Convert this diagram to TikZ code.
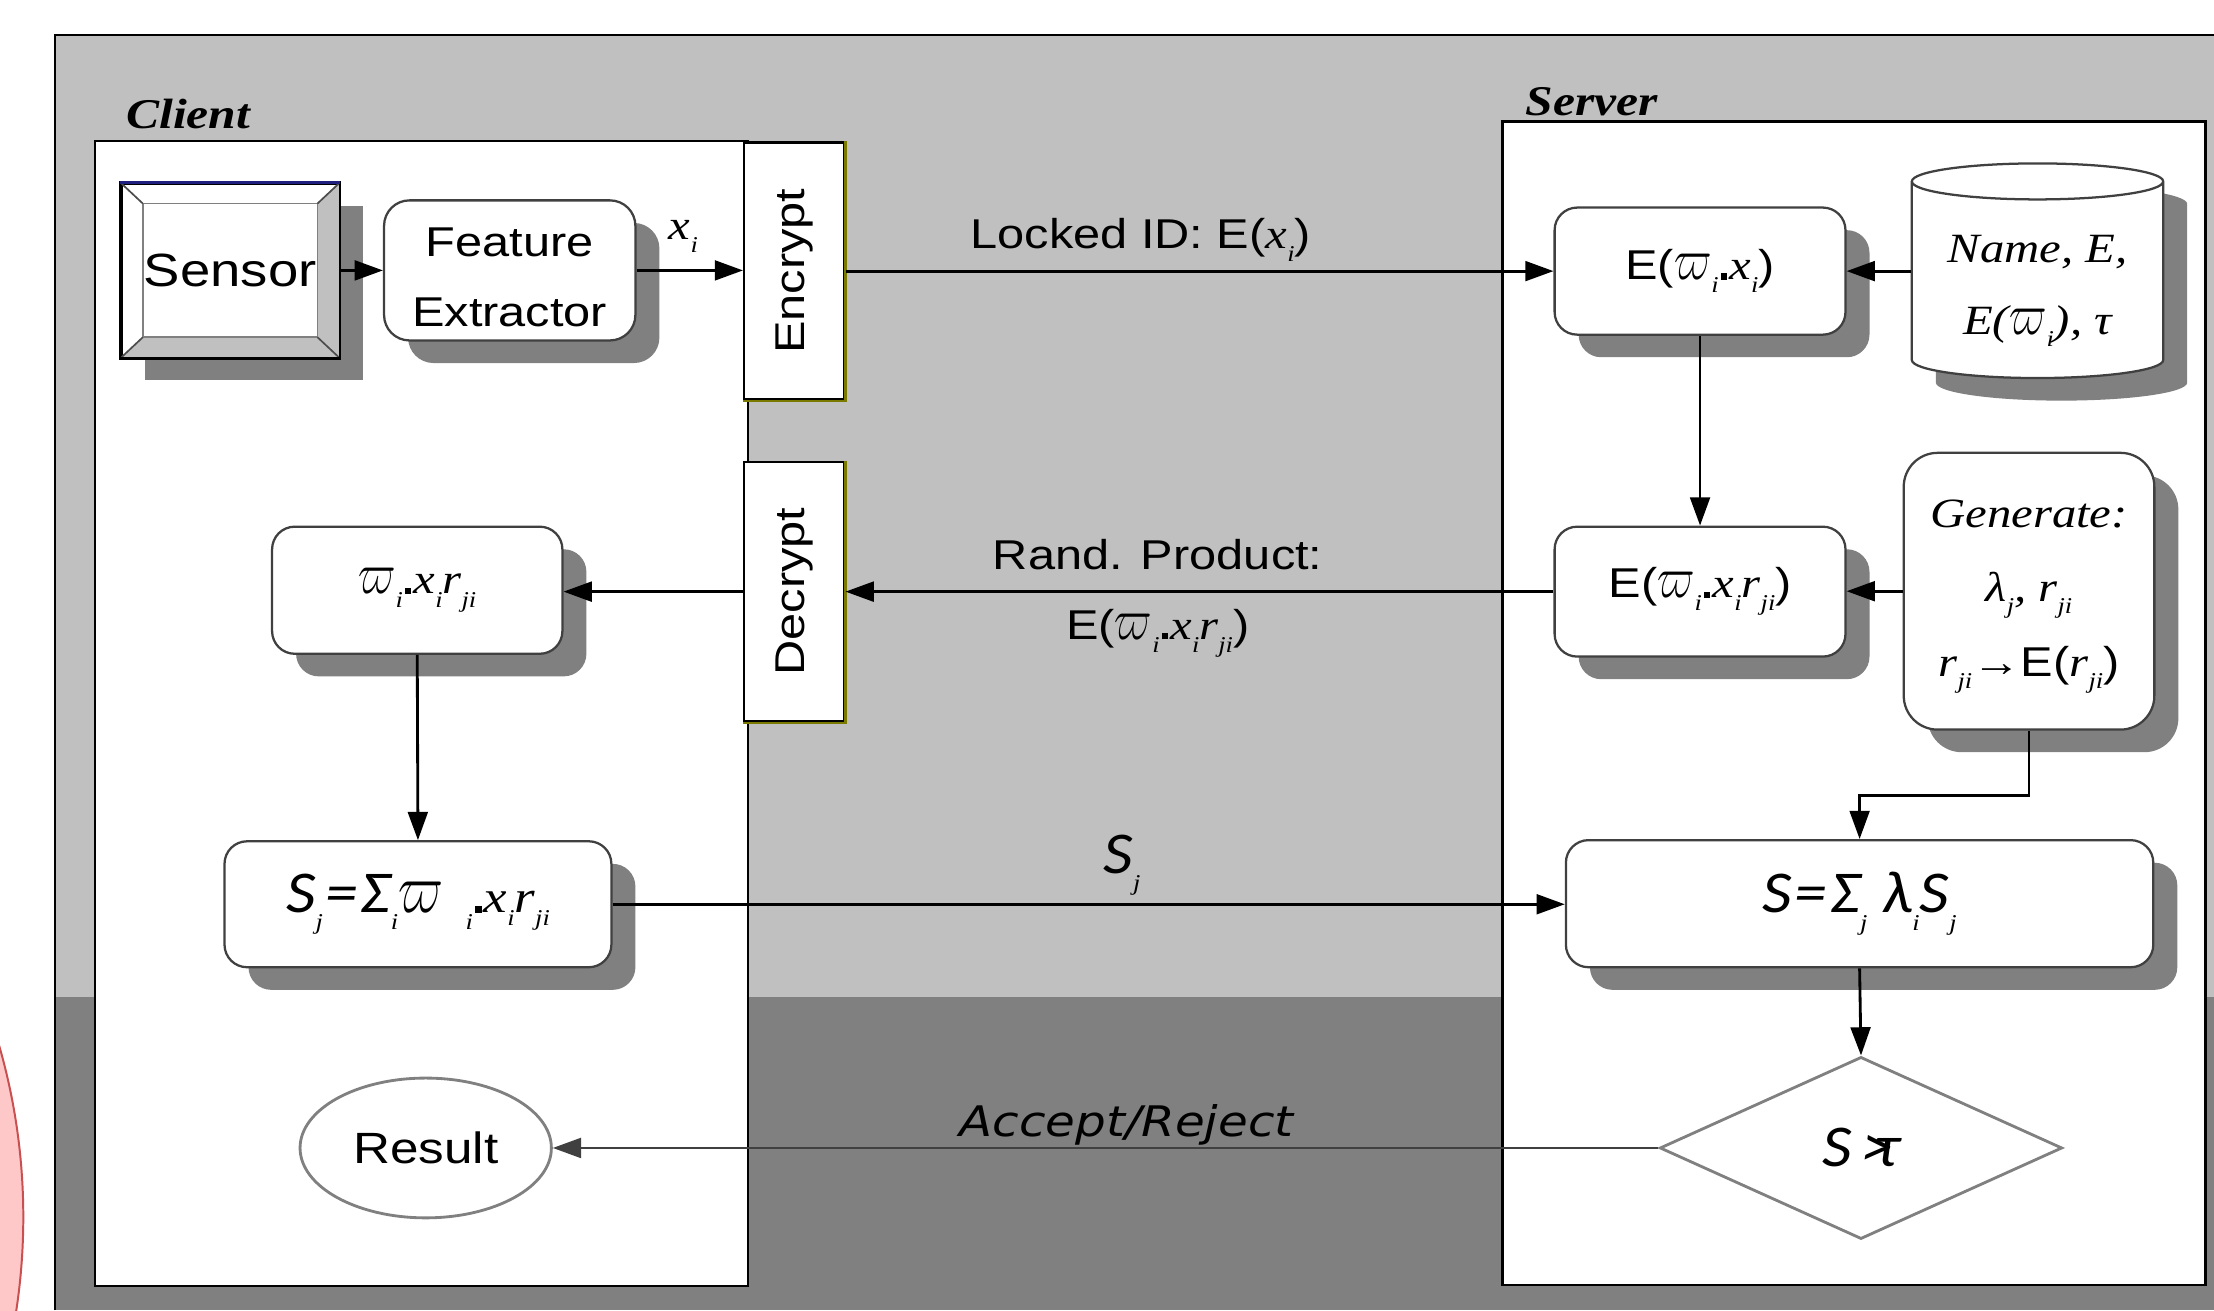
\documentclass[tikz,border=0pt]{standalone}
\usepackage{fontspec}
\usetikzlibrary{arrows.meta,shapes.geometric,shadows,calc}

\newfontfamily\figsans[FakeStretch=1.17]{Liberation Sans}
\newfontfamily\figserif[FakeStretch=1.17]{Liberation Serif}
\newfontfamily\figcal[FakeStretch=1.1]{Carlito}
\newfontfamily\figobl[FakeStretch=1.15]{DejaVu Sans}

\definecolor{panelgray}{HTML}{C0C0C0}
\definecolor{deepgray}{HTML}{808080}
\definecolor{shadegray}{HTML}{808080}
\definecolor{edgegray}{HTML}{404040}
\definecolor{olivebar}{HTML}{7A7A00}
\definecolor{navyedge}{HTML}{202080}
\definecolor{pinkfill}{HTML}{FFC8C8}
\definecolor{pinkline}{HTML}{C85050}

% symbols used in the formulas
\newcommand\vpi{\scalebox{1.1}[1.45]{$\varpi$}}
\newcommand\lo[1]{\raisebox{-0.6ex}{\fontsize{8}{8}\selectfont\figserif\itshape #1}}
\newcommand\pdot{\kern0.8pt\rule{2.2pt}{2.2pt}\kern0.8pt}
\newcommand\ix[1]{{\figserif\itshape #1}}
% a block of centred lines, drawn #1 lower than where the node centres it
\newcommand\lines[2]{\raisebox{-#1}[\height][\depth]{\begin{tabular}{@{}c@{}}#2\end{tabular}}}

\tikzset{
  conn/.style={line width=1pt, -{Triangle[length=10pt,width=7pt]}},
  boxshadow/.style={drop shadow={shadow xshift=8.5pt,shadow yshift=-8pt,fill=shadegray,opacity=1}},
  procbox/.style={draw=edgegray, line width=0.8pt, fill=white, rounded corners=8pt,
                  boxshadow, inner sep=0pt, align=center},
  cryptbox/.style={draw=black, line width=0.8pt, fill=white, inner sep=0pt},
  sanstext/.style={font=\figsans\fontsize{14.75}{24.8}\selectfont},
  caltext/.style={font=\figcal\itshape\fontsize{21}{24}\selectfont},
  headtext/.style={font=\figserif\bfseries\itshape\fontsize{15}{18}\selectfont},
}

\begin{document}
\begin{tikzpicture}[x=0.5pt,y=-0.5pt]
\useasboundingbox (0,0) rectangle (1568,928);
\fill[white] (0,0) rectangle (1568,928);

% stray circle at the left margin
\begin{scope}
  \clip (0,0) rectangle (38,928);
  \filldraw[fill=pinkfill, draw=pinkline, line width=0.7pt] (-420.5,862) circle [radius=437];
\end{scope}

% background panel
\fill[panelgray] (39,25) rectangle (1568,928);
\fill[deepgray] (39,706) rectangle (1568,928);
\draw[black, line width=0.8pt] (39,928) -- (39,25) -- (1568,25);

% client and server areas
\draw[black, line width=0.8pt, fill=white] (67.5,100) rectangle (530,911);
\draw[black, line width=0.8pt, fill=white] (1064,86) rectangle (1562,910);
\node[headtext, anchor=base west, inner sep=0pt] (cl) at (89,91) {Client};
\node[headtext, anchor=base west, inner sep=0pt] (sv) at (1080,82) {Server};

% client side
\node[draw=black, line width=0.8pt, fill=white, boxshadow, minimum width=77pt,
      minimum height=61.5pt, inner sep=0pt, font=\figsans\fontsize{16.5}{19}\selectfont]
      (sensor) at (163,191.5) {Sensor};
\coordinate (sNWi) at ($(sensor.north west)+(16,15)$);
\coordinate (sNEi) at ($(sensor.north east)+(-16,15)$);
\coordinate (sSWi) at ($(sensor.south west)+(16,-15)$);
\coordinate (sSEi) at ($(sensor.south east)+(-16,-15)$);
\fill[panelgray] (sensor.north east) -- (sensor.south east) -- (sSEi) -- (sNEi) -- cycle;
\fill[panelgray] (sensor.south west) -- (sensor.south east) -- (sSEi) -- (sSWi) -- cycle;
\draw[gray, line width=0.6pt] (sNWi) rectangle (sSEi);
\draw[black!70, line width=0.6pt] (sensor.north west) -- (sNWi) (sensor.north east) -- (sNEi)
      (sensor.south west) -- (sSWi) (sensor.south east) -- (sSEi);
\draw[black, line width=0.8pt] (sensor.north west) rectangle (sensor.south east);
\draw[navyedge, line width=0.8pt] (sensor.north west) -- (sensor.north east);

\node[procbox, rounded corners=9pt, minimum width=89pt, minimum height=44.5pt, sanstext]
      (fe) at (361,191.5) {\lines{2.5pt}{Feature\\Extractor}};

\node[cryptbox, minimum width=35.5pt, minimum height=91pt] (enc) at (562.5,192)
      {\rotatebox{90}{\figsans\fontsize{14.75}{16}\selectfont Encrypt}};
\node[cryptbox, minimum width=35.5pt, minimum height=92pt] (dcr) at (562.5,419)
      {\rotatebox{90}{\figsans\fontsize{14.75}{16}\selectfont Decrypt}};
\draw[olivebar, line width=0.8pt] (enc.north east) -- (enc.south east) -- (enc.south west);
\draw[olivebar, line width=0.8pt] (dcr.north east) -- (dcr.south east) -- (dcr.south west);

\node[procbox, minimum width=102.8pt, minimum height=45pt, sanstext] (wx) at (295.5,418)
      {\vpi\lo{i}\pdot\ix{x}\lo{i}\ix{r}\lo{ji}};
\node[procbox, minimum width=137pt, minimum height=44.6pt, caltext] (sj) at (296,640.4)
      {S\lo{j}\kern1pt=\kern1ptΣ\lo{i}{\fontsize{16}{18}\selectfont\vpi}\kern8pt\lo{i}\pdot{\fontsize{16}{18}\selectfont\ix{x}\lo{i}\ix{r}\lo{ji}}};
\node[ellipse, draw=deepgray, line width=1pt, fill=white, minimum width=89pt,
      minimum height=49.5pt, inner sep=0pt, font=\figsans\fontsize{15.5}{18}\selectfont]
      (res) at (301.5,813) {Result};

% server side
\node[procbox, minimum width=103pt, minimum height=45pt, sanstext] (e1) at (1204,192)
      {E(\vpi\lo{i}\pdot\ix{x}\lo{i})};
\node[cylinder, shape border rotate=90, aspect=0.2, draw=edgegray, line width=0.8pt,
      fill=white, boxshadow, minimum width=89pt, minimum height=76pt, inner sep=0pt,
      font=\figserif\itshape\fontsize{14.75}{25.5}\selectfont]
      (db) at (1443,198.5) {\lines{1.5pt}{Name, E,\\E(\vpi\lo{i}), τ}};
\node[procbox, minimum width=103pt, minimum height=46pt, sanstext] (e2) at (1204,419)
      {E(\vpi\lo{i}\pdot\ix{x}\lo{i}\ix{r}\lo{ji})};
\node[procbox, rounded corners=12pt, minimum width=88.75pt, minimum height=98pt,
      font=\figserif\itshape\fontsize{14.75}{26.5}\selectfont] (gen) at (1437,418.7)
      {\lines{-1.5pt}{Generate:\\λ\lo{j}, r\lo{ji}\\r\lo{ji}{\figsans\upshape →E(}r\lo{ji}{\figsans\upshape )}}};
\node[procbox, minimum width=208pt, minimum height=45pt, caltext] (sum) at (1317,640)
      {S\kern1pt=\kern1ptΣ\lo{j}\ λ\lo{i}S\lo{j}};
\node[diamond, draw=deepgray, line width=1pt, fill=white, minimum width=142.5pt,
      minimum height=64.5pt, inner sep=0pt, caltext] (thr) at (1318,813) {S\,>\kern-7pt τ};

% connectors
\draw[conn] (sensor.east) -- (sensor.east -| fe.west);
\draw[conn] (fe.east) -- node[pos=0.44, anchor=base, yshift=11pt, inner sep=0pt, sanstext] (xi)
      {\ix{x}\lo{i}} (fe.east -| enc.west);
\draw[conn] (enc.east) -- node[pos=0.417, anchor=base, yshift=8pt, inner sep=0pt, sanstext] (lk)
      {Locked ID: E(\ix{x}\lo{i})} (enc.east -| e1.west);
\draw[conn] (db.west |- e1.east) -- (e1.east);
\draw[conn] (e1.south) -- (e2.north);
\draw[conn] (gen.west) -- (gen.west -| e2.east);
\draw[conn] (e2.west) --
      node[pos=0.559, anchor=base, yshift=8pt, inner sep=0pt, sanstext] (rp) {Rand. Product:}
      node[pos=0.559, anchor=base, yshift=-16.9pt, inner sep=0pt, sanstext] (rpe)
      {E(\vpi\lo{i}\pdot\ix{x}\lo{i}\ix{r}\lo{ji})}
      (e2.west -| dcr.east);
\draw[conn] (dcr.west) -- (dcr.west -| wx.east);
\draw[conn] (wx.south) -- (sj.north);
\draw[conn] (sj.east) -- node[pos=0.535, anchor=base, yshift=11pt, inner sep=0pt, caltext] (sjl)
      {S\lo{j}} (sj.east -| sum.west);
\draw[conn] (gen.south) -- ++(0,46) -| (sum.north);
\draw[conn] (sum.south) -- (thr.north);
\draw[conn, draw=black!75] (thr.west) --
      node[pos=0.481, anchor=base, yshift=4pt, inner sep=0pt,
           font=\figobl\itshape\fontsize{14.9}{18}\selectfont] (ar) {Accept/Reject}
      (res.east);
\end{tikzpicture}
\end{document}
